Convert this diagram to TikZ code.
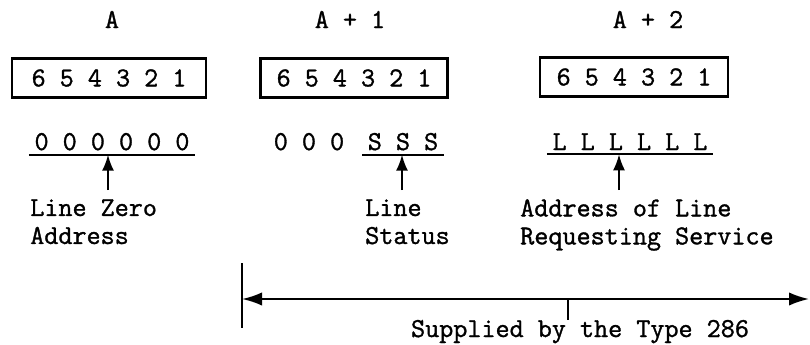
\documentclass[tikz,border=0pt]{standalone}
\usepackage{fontspec}
\usetikzlibrary{arrows.meta}
\newfontfamily\typewriter{Latin Modern Mono}[FakeBold=1.2]
\tikzset{
  tw/.style={font=\fontsize{20.5}{21}\selectfont\typewriter},
  regbox/.style={tw, draw, line width=1.8pt, minimum height=29.25pt, inner sep=0pt},
  bits/.style={tw, anchor=base, inner xsep=4pt, inner ysep=3pt},
  note/.style={tw, anchor=north west, align=left, inner sep=0pt},
  uline/.style={line width=1.6pt},
  pointer/.style={line width=1.6pt, -{Latex[length=12pt,width=9pt]}},
  span/.style={line width=1.6pt, {Latex[length=15pt,width=10pt]}-{Latex[length=15pt,width=10pt]}}
}
\begin{document}
\begin{tikzpicture}[x=0.75pt, y=-0.75pt]
  \useasboundingbox (0,0) rectangle (810,344);
  % word addresses
  \node[tw, anchor=base] (addrA) at (112,28) {A};
  \node[tw, anchor=base] (addrB) at (350,28) {A + 1};
  \node[tw, anchor=base] (addrC) at (648,28) {A + 2};
  % registers
  \node[regbox, minimum width=145.5pt] (regA) at (109,78) {6 5 4 3 2 1};
  \node[regbox, minimum width=140.25pt] (regB) at (354,78) {6 5 4 3 2 1};
  \node[regbox, minimum width=141pt] (regC) at (634,77) {6 5 4 3 2 1};
  % bit contents
  \node[bits] (bitsA) at (112,150) {0 0 0 0 0 0};
  \node[bits] (zeroB) at (309,150) {0 0 0};
  \node[bits] (statB) at (403,150) {S S S};
  \node[bits] (bitsC) at (630,150) {L L L L L L};
  \draw[uline] (bitsA.south west) -- (bitsA.south east);
  \draw[uline] (statB.south west) -- (statB.south east);
  \draw[uline] (bitsC.south west) -- (bitsC.south east);
  % pointers
  \coordinate (tailA) at (108,190);
  \coordinate (tailB) at (402,190);
  \coordinate (tailC) at (619,190);
  \draw[pointer] (tailA) -- (tailA |- bitsA.south);
  \draw[pointer] (tailB) -- (tailB |- statB.south);
  \draw[pointer] (tailC) -- (tailC |- bitsC.south);
  \node[note] (noteA) at (30,199) {Line Zero\\Address};
  \node[note] (noteB) at (365,199) {Line\\Status};
  \node[note] (noteC) at (520,199) {Address of Line\\Requesting Service};
  % supplied range
  \coordinate (barTop) at (242,263);
  \coordinate (barBot) at (242,328);
  \draw[uline] (barTop) -- (barBot);
  \coordinate (spanL) at (242,299);
  \coordinate (spanR) at (809,299);
  \draw[span] (spanL) -- (spanR);
  \node[tw, anchor=base, inner sep=0pt] (supplied) at (580,337) {Supplied by the Type 286};
  \coordinate (tick) at (568,299);
  \draw[uline] (tick) -- (tick |- supplied.north);
\end{tikzpicture}
\end{document}
